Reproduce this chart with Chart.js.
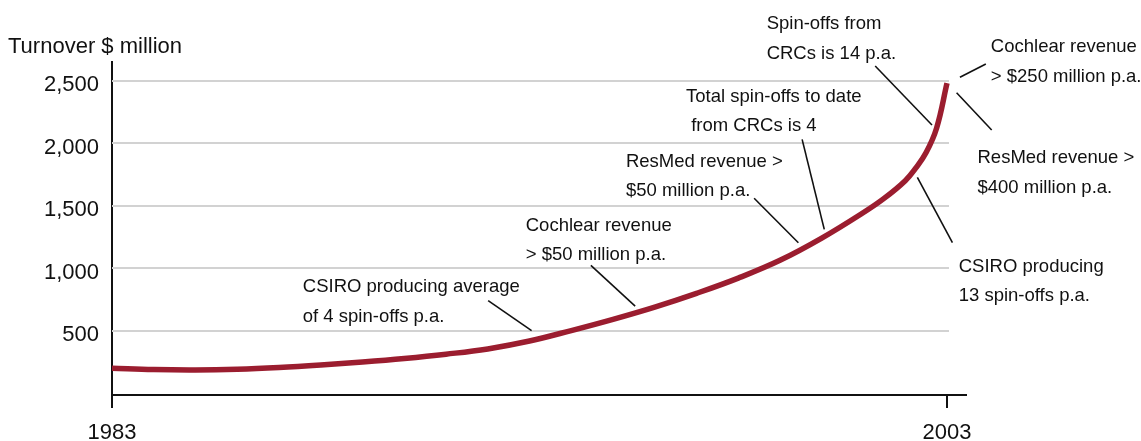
<!DOCTYPE html>
<html>
<head>
<meta charset="utf-8">
<title>Turnover $ million</title>
<script src="https://cdn.jsdelivr.net/npm/chart.js@4.4.1/dist/chart.umd.min.js"></script>
<style>
  html, body { margin: 0; padding: 0; background: #fff; }
  #wrap { width: 1141px; height: 441px; }
</style>
</head>
<body>
<div id="wrap"><canvas id="turnoverChart" width="1141" height="441"></canvas></div>
<script>
// turnover of research spin-offs, $ million
const years    = [1983, 1984, 1985, 1986, 1987, 1988, 1989, 1990, 1991, 1992, 1993,
                  1994, 1995, 1996, 1997, 1998, 1999, 2000, 2001, 2001.5, 2002,
                  2002.25, 2002.5, 2002.75, 2003];
const turnover = [ 199,  188,  185,  191,  205,  225,  249,  277,  311,  353,  416,
                   500,  590,  688,  798,  920, 1062, 1240, 1445, 1560, 1700,
                  1800, 1925, 2120, 2480];

const xTicks = [1983, 2003];
const yTicks = [500, 1000, 1500, 2000, 2500];
const yTitle = 'Turnover $ million';

// callouts: text anchored at [year, $m] (first baseline), leader from -> to in the same units
const notes = [
  { text: ['CSIRO producing average', 'of 4 spin-offs p.a.'], at: [1987.57, 806],  from: [1992.01, 739],  to: [1993.05, 500] },
  { text: ['Cochlear revenue', '> $50 million p.a.'],         at: [1992.91, 1299], from: [1994.47, 1022], to: [1995.53, 696] },
  { text: ['ResMed revenue >', '$50 million p.a.'],           at: [1995.31, 1812], from: [1998.38, 1559], to: [1999.44, 1203] },
  { text: ['Total spin-offs to date', ' from CRCs is 4'],     at: [1996.75, 2332], from: [1999.53, 2031], to: [2000.06, 1310] },
  { text: ['Spin-offs from', 'CRCs is 14 p.a.'],              at: [1998.68, 2912], from: [2001.28, 2618], to: [2002.64, 2146] },
  { text: ['Cochlear revenue', '> $250 million p.a.'],        at: [2004.05, 2728], from: [2003.93, 2634], to: [2003.31, 2528] },
  { text: ['ResMed revenue >', '$400 million p.a.'],          at: [2003.73, 1839], from: [2003.23, 2404], to: [2004.07, 2106] },
  { text: ['CSIRO producing', '13 spin-offs p.a.'],           at: [2003.28, 971],  from: [2002.29, 1727], to: [2003.13, 1203] }
];

const FONT = '"Liberation Sans", Arial, Helvetica, sans-serif';
Chart.defaults.font.family = FONT;
Chart.defaults.color = '#111';

// light horizontal rules, stopping at the last year
const gridRules = {
  id: 'gridRules',
  beforeDatasetsDraw(chart) {
    const { ctx, chartArea, scales: { x, y } } = chart;
    const right = x.getPixelForValue(xTicks[xTicks.length - 1]) + 2;
    ctx.save();
    ctx.strokeStyle = '#d2d2d2';
    ctx.lineWidth = 2;
    yTicks.forEach(v => {
      const py = Math.round(y.getPixelForValue(v));
      ctx.beginPath();
      ctx.moveTo(chartArea.left, py);
      ctx.lineTo(right, py);
      ctx.stroke();
    });
    ctx.restore();
  }
};

// axis title and the callout texts with their leader lines
const callouts = {
  id: 'callouts',
  afterDraw(chart) {
    const { ctx, chartArea, scales: { x, y } } = chart;
    ctx.save();
    ctx.fillStyle = '#111';
    ctx.textAlign = 'left';
    ctx.textBaseline = 'alphabetic';
    ctx.font = '22px ' + FONT;
    ctx.fillText(yTitle, 8, chartArea.top - 8.7);

    ctx.font = '18.5px ' + FONT;
    ctx.strokeStyle = '#111';
    ctx.lineWidth = 1.6;
    notes.forEach(n => {
      const tx = x.getPixelForValue(n.at[0]);
      const ty = y.getPixelForValue(n.at[1]);
      n.text.forEach((line, i) => ctx.fillText(line, tx, ty + i * 29.5));
      ctx.beginPath();
      ctx.moveTo(x.getPixelForValue(n.from[0]), y.getPixelForValue(n.from[1]));
      ctx.lineTo(x.getPixelForValue(n.to[0]), y.getPixelForValue(n.to[1]));
      ctx.stroke();
    });
    ctx.restore();
  }
};

const ctx = document.getElementById('turnoverChart').getContext('2d');
new Chart(ctx, {
  type: 'line',
  data: {
    datasets: [{
      data: years.map((yr, i) => ({ x: yr, y: turnover[i] })),
      borderColor: '#9b1d2f',
      borderWidth: 5.5,
      borderCapStyle: 'butt',
      pointRadius: 0,
      fill: false,
      tension: 0.4
    }]
  },
  options: {
    responsive: false,
    devicePixelRatio: 1,
    animation: false,
    layout: { padding: { top: 62, right: 175, left: 0, bottom: 0 } },
    plugins: { legend: { display: false }, tooltip: { enabled: false } },
    scales: {
      x: {
        type: 'linear',
        min: 1983,
        max: 2003.455,
        afterBuildTicks: s => { s.ticks = xTicks.map(v => ({ value: v })); },
        afterFit: s => { s.height = 46; },
        grid: { drawOnChartArea: false, drawTicks: true, tickLength: 13, color: '#111', lineWidth: 2 },
        border: { display: true, color: '#111', width: 2 },
        ticks: {
          font: { size: 22 },
          color: '#111',
          padding: 12,
          maxRotation: 0,
          autoSkip: false,
          callback: v => String(v)
        }
      },
      y: {
        min: -16,
        max: 2650,
        afterBuildTicks: s => { s.ticks = yTicks.map(v => ({ value: v })); },
        afterFit: s => { s.width = 112; },
        grid: { display: false, drawTicks: false, tickLength: 0 },
        border: { display: true, color: '#111', width: 2 },
        ticks: {
          font: { size: 22 },
          color: '#111',
          padding: 13,
          labelOffset: 4.5,
          callback: v => v.toLocaleString('en-US')
        }
      }
    }
  },
  plugins: [gridRules, callouts]
});
</script>
</body>
</html>
